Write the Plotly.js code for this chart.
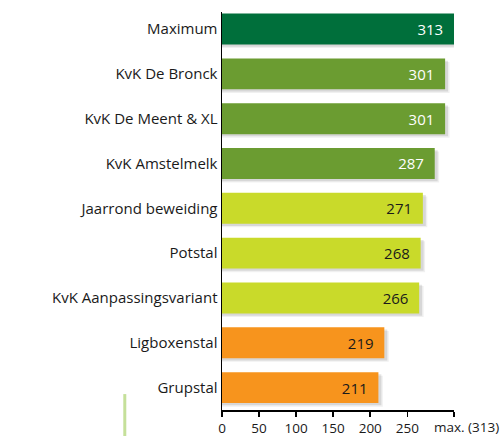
<!DOCTYPE html>
<html>
<head>
<meta charset="utf-8">
<script src="https://cdn.plot.ly/plotly-3.0.1.min.js"></script>
<style>html,body{margin:0;padding:0;background:#fff;}#chart{width:502px;height:436px;}</style>
</head>
<body>
<div id="chart"></div>
<script>
var categories = ["Maximum", "KvK De Bronck", "KvK De Meent & XL", "KvK Amstelmelk", "Jaarrond beweiding", "Potstal", "KvK Aanpassingsvariant", "Ligboxenstal", "Grupstal"];
var values = [313, 301, 301, 287, 271, 268, 266, 219, 211];
var barColors = ["#006F3B", "#6B9C31", "#6B9C31", "#6B9C31", "#C9DA2A", "#C9DA2A", "#C9DA2A", "#F7941D", "#F7941D"];
var textColors = ["#ffffff", "#ffffff", "#ffffff", "#ffffff", "#1a1a1a", "#1a1a1a", "#1a1a1a", "#1a1a1a", "#1a1a1a"];
var tickVals = [0, 50, 100, 150, 200, 250, 313];
var tickText = ["0", "50", "100", "150", "200", "250", "max. (313)"];

var FONT = "Open Sans, Noto Sans, sans-serif";
var W = 0.69;
var last = tickVals.length - 1;

var shadow1 = {
  type: "bar", orientation: "h", y: categories,
  x: values.map(function(v){ return v + 6; }),
  width: W, offset: -W/2 + 0.08,
  marker: {color: "rgba(0,0,0,0.06)"}, hoverinfo: "skip", showlegend: false
};
var shadow2 = {
  type: "bar", orientation: "h", y: categories,
  x: values.map(function(v){ return v + 4; }),
  width: W, offset: -W/2 + 0.05,
  marker: {color: "rgba(0,0,0,0.10)"}, hoverinfo: "skip", showlegend: false
};
var bars = {
  type: "bar", orientation: "h", y: categories, x: values,
  width: W, offset: -W/2,
  marker: {color: barColors},
  text: values.map(function(v){ return v + "\u00a0\u00a0"; }),
  textposition: "inside", insidetextanchor: "end",
  textfont: {family: FONT, size: 15, color: textColors},
  cliponaxis: false,
  hoverinfo: "skip", showlegend: false
};

var layout = {
  width: 502, height: 436,
  margin: {l: 222, r: 48.4, t: 12, b: 25.5},
  barmode: "overlay",
  paper_bgcolor: "#ffffff", plot_bgcolor: "rgba(0,0,0,0)",
  font: {family: FONT, size: 15, color: "#1a1a1a"},
  xaxis: {
    range: [0, 313], tickvals: tickVals,
    ticktext: tickText.map(function(t, i){ return i === last ? "" : t; }),
    tickangle: 0,
    showgrid: false, zeroline: false, showline: true, linecolor: "#000", linewidth: 1.5,
    ticks: "outside", ticklen: 5, tickcolor: "#000", tickwidth: 1.5,
    tickfont: {family: FONT, size: 13.5, color: "#1a1a1a"}
  },
  yaxis: {
    type: "category", categoryorder: "array", categoryarray: categories,
    range: [8.5, -0.38], showgrid: false, zeroline: false,
    showline: true, linecolor: "#000", linewidth: 1.5, ticks: "", ticklen: 0,
    tickfont: {family: FONT, size: 15, color: "#1a1a1a"}
  },
  annotations: [{
    text: tickText[last], x: tickVals[last], xref: "x", y: 0, yref: "paper",
    xanchor: "left", yanchor: "top", xshift: -22, yshift: -6,
    showarrow: false, font: {family: FONT, size: 13.5, color: "#1a1a1a"}
  }],
  shapes: [{
    type: "line", xref: "paper", yref: "paper",
    x0: -0.419, x1: -0.419, y0: 0.04, y1: -0.07,
    line: {color: "#C5E09A", width: 3}
  }]
};

Plotly.newPlot("chart", [shadow1, shadow2, bars], layout, {displayModeBar: false, staticPlot: true});
</script>
</body>
</html>
